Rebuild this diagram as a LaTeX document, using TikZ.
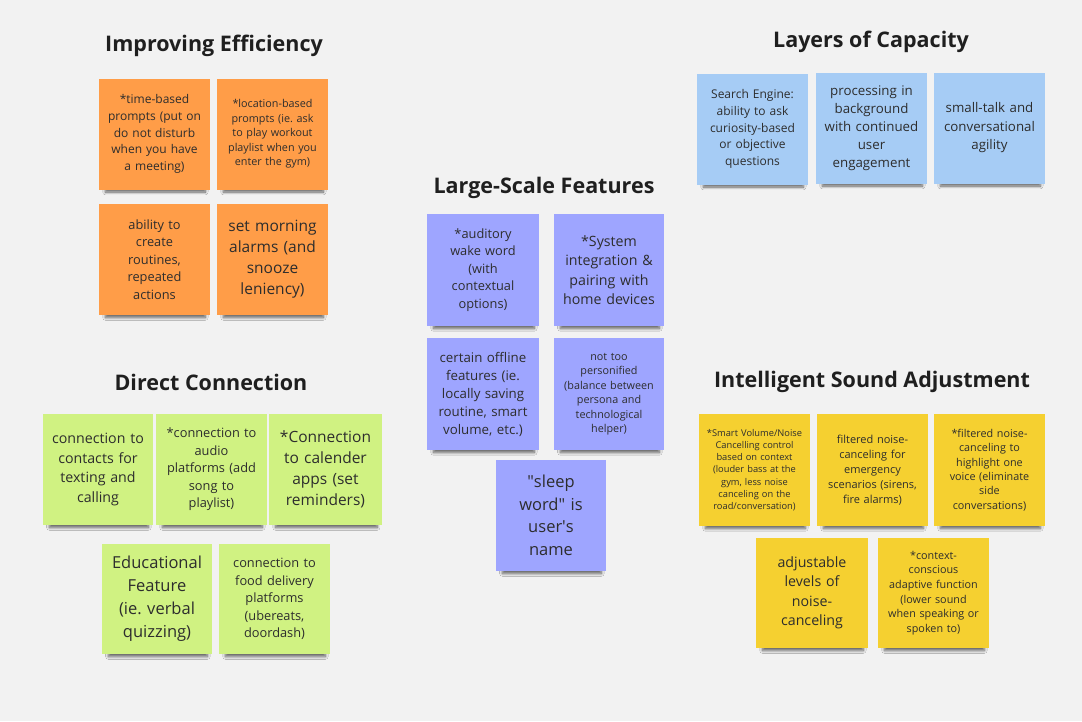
\documentclass[tikz,border=0pt]{standalone}
\usepackage{fontspec}
\setmainfont{Open Sans}
\usetikzlibrary{shadows.blur}
\frenchspacing
\newcommand{\nfs}[2]{\fontsize{#1}{#2}\selectfont}
\definecolor{bgc}{RGB}{242,242,242}
\definecolor{txt}{RGB}{45,45,45}
\definecolor{orng}{RGB}{255,157,72}
\definecolor{blu}{RGB}{166,204,245}
\definecolor{prp}{RGB}{158,165,255}
\definecolor{grn}{RGB}{208,242,130}
\definecolor{ylw}{RGB}{245,208,48}
\tikzset{
  note/.style={rectangle, inner sep=0pt, minimum width=111pt, minimum height=111pt,
    text width=106pt, align=center, text=txt,
    blur shadow={shadow xshift=1pt, shadow yshift=-9pt, shadow opacity=60, shadow scale=0.9, shadow blur radius=3pt, shadow blur steps=10}},
  title/.style={font=\bfseries\nfs{21.5}{25}, text=black!88}
}
\begin{document}
\begin{tikzpicture}[x=1pt,y=-1pt]
\useasboundingbox[fill=bgc] (0,0) rectangle (1082,721);
% titles
\node[title] (t1) at (214,46) {Improving Efficiency};
\node[title] (t2) at (871,42) {Layers of Capacity};
\node[title] (t3) at (544,188) {Large-Scale Features};
\node[title] (t4) at (211,382) {Direct Connection};
\node[title] (t5) at (872,382) {Intelligent Sound Adjustment};
% orange
\node[note, fill=orng, font=\nfs{12}{16.6}] (o1) at (154.5,134) {*time-based\\prompts (put on\\do not disturb\\when you have\\a meeting)};
\node[note, fill=orng, font=\nfs{10.8}{14.5}] (o2) at (272.5,134) {*location-based\\prompts (ie. ask\\to play workout\\playlist when you\\enter the gym)};
\node[note, fill=orng, font=\nfs{12.8}{17.5}] (o3) at (154.5,259.5) {ability to\\create\\routines,\\repeated\\actions};
\node[note, fill=orng, font=\nfs{15.5}{21}] (o4) at (272.5,259.5) {set morning\\alarms (and\\snooze\\leniency)};
% blue
\node[note, fill=blu, font=\nfs{12}{16.6}] (b1) at (752.5,129) {Search Engine:\\ability to ask\\curiosity-based\\or objective\\questions};
\node[note, fill=blu, font=\nfs{13.3}{18}] (b2) at (871.5,128) {processing in\\background\\with continued\\user\\engagement};
\node[note, fill=blu, font=\nfs{13.3}{18.5}] (b3) at (989.5,128) {small-talk and\\conversational\\agility};
% purple
\node[note, fill=prp, minimum width=112pt, minimum height=112pt, font=\nfs{12.8}{17.6}] (p1) at (483,270) {*auditory\\wake word\\(with\\contextual\\options)};
\node[note, fill=prp, minimum width=110pt, minimum height=112pt, font=\nfs{14.2}{19.5}] (p2) at (609,270) {*System\\integration \&\\pairing with\\home devices};
\node[note, fill=prp, minimum width=112pt, minimum height=112pt, font=\nfs{13.3}{18}] (p3) at (483,394) {certain offline\\features (ie.\\locally saving\\routine, smart\\volume, etc.)};
\node[note, fill=prp, minimum width=110pt, minimum height=112pt, font=\nfs{10.8}{14.5}] (p4) at (609,394) {not too\\personified\\(balance between\\persona and\\technological\\helper)};
\node[note, fill=prp, minimum width=110pt, minimum height=111pt, font=\nfs{16.5}{22.5}] (p5) at (551,515.5) {\textquotedbl sleep\\word\textquotedbl{} is\\user\textquotesingle s\\name};
% green
\node[note, fill=grn, minimum width=110pt, font=\nfs{14.2}{19.7}] (g1) at (98,469.5) {connection to\\contacts for\\texting and\\calling};
\node[note, fill=grn, font=\nfs{12.8}{17.5}] (g2) at (211.5,469.5) {*connection to\\audio\\platforms (add\\song to\\playlist)};
\node[note, fill=grn, minimum width=113pt, font=\nfs{15.5}{21}] (g3) at (325.5,469.5) {*Connection\\to calender\\apps (set\\reminders)};
\node[note, fill=grn, minimum width=110pt, minimum height=110pt, font=\nfs{16.5}{23}] (g4) at (157,599) {Educational\\Feature\\(ie. verbal\\quizzing)};
\node[note, fill=grn, minimum width=111pt, minimum height=110pt, font=\nfs{12.8}{17.5}] (g5) at (274.5,599) {connection to\\food delivery\\platforms\\(ubereats,\\doordash)};
% yellow
\node[note, fill=ylw, minimum height=112pt, font=\nfs{9.3}{12.2}] (y1) at (754.5,470) {*Smart Volume/Noise\\Cancelling control\\based on context\\(louder bass at the\\gym, less noise\\canceling on the\\road/conversation)};
\node[note, fill=ylw, minimum height=112pt, font=\nfs{11}{15}] (y2) at (872.5,470) {filtered noise-\\canceling for\\emergency\\scenarios (sirens,\\fire alarms)};
\node[note, fill=ylw, minimum height=112pt, font=\nfs{10.8}{14.4}] (y3) at (989.5,470) {*filtered noise-\\canceling to\\highlight one\\voice (eliminate\\side\\conversations)};
\node[note, fill=ylw, minimum width=112pt, minimum height=110pt, font=\nfs{14.2}{19.5}] (y4) at (812,593) {adjustable\\levels of\\noise-\\canceling};
\node[note, fill=ylw, minimum height=110pt, font=\nfs{10.8}{14.7}] (y5) at (933.5,593) {*context-\\conscious\\adaptive function\\(lower sound\\when speaking or\\spoken to)};
\end{tikzpicture}
\end{document}
